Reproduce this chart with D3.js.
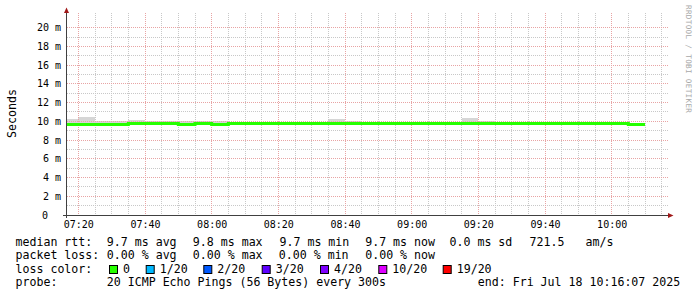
<!DOCTYPE html>
<html>
<head>
<meta charset="utf-8">
<script src="https://d3js.org/d3.v7.min.js"></script>
<style>
body{margin:0;background:#fff}
svg{display:block}
text{font-family:'DejaVu Sans Mono',monospace;fill:#000}
</style>
</head>
<body>
<svg id="chart" width="697" height="297"></svg>
<script>
// one entry per 5 minute step (step start time)
var stepTimes = ['07:15','07:20','07:25','07:30','07:35','07:40','07:45','07:50','07:55',
  '08:00','08:05','08:10','08:15','08:20','08:25','08:30','08:35','08:40','08:45','08:50','08:55',
  '09:00','09:05','09:10','09:15','09:20','09:25','09:30','09:35','09:40','09:45','09:50','09:55',
  '10:00','10:05']
var stepEnd = '10:10'

var medianMs = [9.66,9.66,9.66,9.66,9.76,9.76,9.76,9.66,9.76,
  9.66,9.76,9.76,9.76,9.76,9.76,9.76,9.76,9.76,9.76,9.76,9.76,
  9.76,9.76,9.76,9.76,9.76,9.76,9.76,9.76,9.76,9.76,9.76,9.76,
  9.76,9.66]
var smokeMaxMs = [10.25,10.43,9.99,9.99,10.13,10.0,10.0,10.0,10.0,
  10.0,9.84,9.84,9.93,9.93,9.93,9.84,10.22,9.99,9.84,9.84,9.93,
  9.93,9.84,9.84,10.33,9.99,9.84,9.84,9.84,9.84,9.84,9.84,9.84,
  9.93,9.84]
var smokeMinMs = [9.6,9.6,9.6,9.6,9.7,9.7,9.7,9.6,9.7,
  9.6,9.7,9.7,9.7,9.7,9.7,9.7,9.7,9.7,9.7,9.7,9.7,
  9.7,9.7,9.7,9.7,9.7,9.7,9.7,9.7,9.7,9.7,9.7,9.7,
  9.7,9.6]

var xTicks = ['07:20','07:40','08:00','08:20','08:40','09:00','09:20','09:40','10:00']
var yTicks = [0,2,4,6,8,10,12,14,16,18,20]
var yTickLabels = ['0','2 m','4 m','6 m','8 m','10 m','12 m','14 m','16 m','18 m','20 m']

var rttLabels = ['median rtt:','9.7 ms avg','9.8 ms max','9.7 ms min','9.7 ms now','0.0 ms sd','721.5','am/s']
var lossLabels = ['packet loss:','0.00 % avg','0.00 % max','0.00 % min','0.00 % now']
var lossColorNames = ['0','1/20','2/20','3/20','4/20','10/20','19/20']
var lossColors = ['#26ff00','#00b8ff','#0059ff','#5e00ff','#7e00ff','#dd00ff','#ff0000']
var probeLabels = ['probe:','20 ICMP Echo Pings (56 Bytes) every 300s','end: Fri Jul 18 10:16:07 2025']

function drawChart(){
  var parseTime = d3.timeParse('%H:%M:%S')
  var svg = d3.select('#chart')

  var plotL = 67, plotR = 667, plotT = 13, plotB = 215

  var x = d3.scaleTime()
    .domain([parseTime('07:16:36'), parseTime('10:16:36')])
    .range([plotL, plotR])
  var y = d3.scaleLinear().domain([0, 21.57]).range([plotB, plotT])

  var steps = stepTimes.map(function(t, i){
    return {t: parseTime(t + ':00'), med: medianMs[i], hi: smokeMaxMs[i], lo: smokeMinMs[i]}
  })
  steps.push(Object.assign({}, steps[steps.length - 1], {t: parseTime(stepEnd + ':00')}))

  svg.append('clipPath').attr('id', 'plot')
    .append('rect').attr('x', plotL).attr('y', plotT).attr('width', plotR - plotL + 1).attr('height', plotB - plotT)

  // smoke
  svg.append('path')
    .datum(steps)
    .attr('clip-path', 'url(#plot)')
    .attr('fill', '#d6d6d6')
    .attr('shape-rendering', 'crispEdges')
    .attr('d', d3.area().curve(d3.curveStepAfter)
      .x(function(d){ return x(d.t) })
      .y0(function(d){ return y(d.lo) })
      .y1(function(d){ return y(d.hi) }))

  // grid
  var minorY = d3.range(1, 21).filter(function(v){ return v % 2 })
  var majorY = yTicks.slice(1)
  var minorX = x.ticks(d3.timeMinute.every(5)).filter(function(d){ return d.getMinutes() % 20 })
  var majorX = xTicks.map(function(t){ return parseTime(t + ':00') })

  var grid = svg.append('g').attr('shape-rendering', 'crispEdges').attr('stroke-dasharray', '1,1')

  function hLines(vals, color){
    grid.selectAll(null).data(vals).join('line')
      .attr('x1', plotL).attr('x2', plotR + 1)
      .attr('y1', function(d){ return Math.floor(y(d)) + .5 })
      .attr('y2', function(d){ return Math.floor(y(d)) + .5 })
      .attr('stroke', color)
  }
  function vLines(vals, color){
    grid.selectAll(null).data(vals).join('line')
      .attr('y1', plotT).attr('y2', plotB)
      .attr('x1', function(d){ return Math.floor(x(d)) + .5 })
      .attr('x2', function(d){ return Math.floor(x(d)) + .5 })
      .attr('stroke', color)
  }
  hLines(minorY, '#c8c8c8')
  vLines(minorX, '#c8c8c8')
  hLines(majorY, '#e8a4a4')
  vLines(majorX, '#e8a4a4')

  // median line
  svg.append('path')
    .datum(steps)
    .attr('clip-path', 'url(#plot)')
    .attr('fill', 'none')
    .attr('stroke', lossColors[0])
    .attr('stroke-width', 3)
    .attr('d', d3.line().curve(d3.curveStepAfter)
      .x(function(d){ return x(d.t) })
      .y(function(d){ return y(d.med) }))

  // axes
  var axis = svg.append('g').attr('stroke', '#404040').attr('shape-rendering', 'crispEdges')
  axis.append('line').attr('x1', 66.5).attr('x2', 66.5).attr('y1', 12).attr('y2', 218)
  axis.append('line').attr('x1', 63).attr('x2', 669).attr('y1', 215.5).attr('y2', 215.5)
  svg.append('path').attr('d', 'M64,13L66.5,7.5L69,13Z').attr('fill', '#a01818')
  svg.append('path').attr('d', 'M668,213L673.5,215.5L668,218Z').attr('fill', '#a01818')

  var labels = svg.append('g').attr('font-size', 10).style('fill', '#222')

  labels.selectAll(null).data(majorX).join('text')
    .attr('x', function(d){ return x(d) + .5 })
    .attr('y', 228)
    .attr('text-anchor', 'middle')
    .text(function(d, i){ return xTicks[i] })

  labels.selectAll(null).data(yTicks).join('text')
    .attr('x', function(d){ return d ? 61 : 48 })
    .attr('y', function(d){ return y(d) + 3.6 })
    .attr('text-anchor', 'end')
    .text(function(d, i){ return yTickLabels[i] })

  svg.append('text')
    .attr('transform', 'translate(15.5,113.5) rotate(-90)')
    .attr('text-anchor', 'middle')
    .attr('font-size', 11.6)
    .text('Seconds')

  svg.append('text')
    .attr('transform', 'translate(686,5) rotate(90)')
    .attr('font-size', 7.6)
    .attr('letter-spacing', 0.35)
    .style('fill', '#a8a8a8')
    .text('RRDTOOL / TOBI OETIKER')

  // legend
  var legend = svg.append('g').attr('font-size', 11.6).style('white-space', 'pre')
  var rttX = [15.5, 106.8, 192.8, 279.5, 365.2, 449.5, 529.5, 585.5]
  var lossX = [15.5, 106.8, 192.8, 278.8, 365.2]

  legend.selectAll(null).data(rttLabels).join('text')
    .attr('x', function(d, i){ return rttX[i] }).attr('y', 245.6).text(function(d){ return d })
  legend.selectAll(null).data(lossLabels).join('text')
    .attr('x', function(d, i){ return lossX[i] }).attr('y', 259).text(function(d){ return d })

  legend.append('text').attr('x', 15.5).attr('y', 272.6).text('loss color:')
  var boxX = [109, 145.7, 203.3, 261.7, 320, 378.3, 442.7]
  var sw = legend.selectAll('g.sw').data(lossColorNames).join('g')
    .attr('transform', function(d, i){ return 'translate(' + boxX[i] + ',0)' })
  sw.append('rect')
    .attr('x', .5).attr('y', 265.5).attr('width', 8).attr('height', 8)
    .attr('fill', function(d, i){ return lossColors[i] })
    .attr('stroke', '#000')
  sw.append('text').attr('x', 14).attr('y', 272.6).text(function(d){ return d })

  var probeX = [15.5, 106.8, 477.8]
  legend.selectAll(null).data(probeLabels).join('text')
    .attr('x', function(d, i){ return probeX[i] }).attr('y', 286.4).text(function(d){ return d })
}
drawChart()
</script>
</body>
</html>
